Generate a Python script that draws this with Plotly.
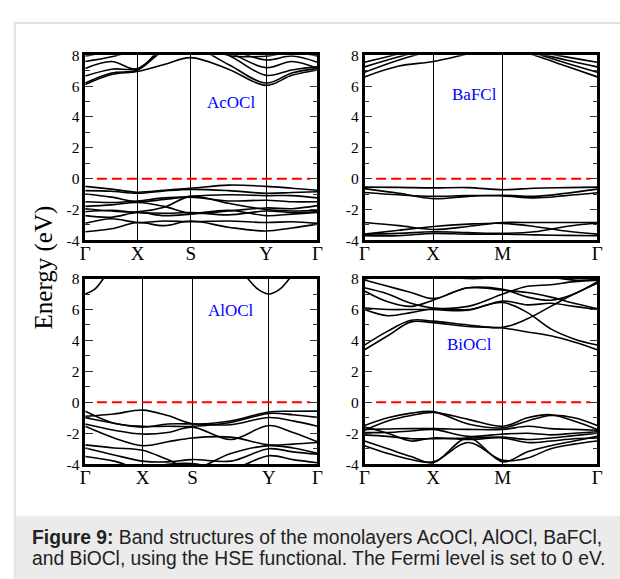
import plotly.graph_objects as go

# ------------------------------------------------------------------ data
y_ticks = [-4, -2, 0, 2, 4, 6, 8]
y_ticktext = ["-4", "-2", "0", "2", "4", "6", "8"]
y_minor = [-3, -1, 1, 3, 5, 7]
fermi_level = 0.0
fermi_span = [0.05, 0.97]

# AcOCl  (path Γ-X-S-Y-Γ)
acocl_nodes = [0.0, 0.226, 0.455, 0.779, 1.0]
acocl_labels = ["Γ", "X", "S", "Y", "Γ"]
acocl_k = [0.0, 0.113, 0.226, 0.340, 0.455, 0.617, 0.779, 0.890, 1.0]
acocl_valence = [
    [-0.50, -0.68, -0.88, -0.75, -0.63, -0.42, -0.50, -0.62, -0.75],
    [-0.78, -0.82, -0.95, -0.80, -0.70, -0.78, -0.95, -0.90, -0.85],
    [-1.00, -1.20, -1.50, -1.35, -1.15, -1.05, -1.10, -1.10, -1.25],
    [-1.50, -1.55, -1.45, -1.25, -1.20, -1.45, -1.40, -1.50, -1.50],
    [-1.80, -1.70, -1.55, -1.80, -2.25, -2.10, -1.90, -1.95, -1.75],
    [-1.95, -2.10, -2.15, -1.85, -1.15, -1.60, -2.00, -2.10, -2.05],
    [-2.15, -2.05, -2.20, -2.25, -2.20, -2.35, -2.10, -2.20, -2.15],
    [-2.40, -2.50, -2.20, -2.40, -2.30, -2.05, -2.40, -2.30, -2.20],
    [-2.90, -2.60, -2.85, -2.75, -2.80, -2.75, -2.85, -2.80, -2.90],
    [-3.45, -3.25, -2.85, -3.05, -2.75, -3.15, -3.40, -3.20, -2.95],
]
acocl_conduction = [
    [6.10, 6.75, 6.95, 7.40, 7.85, 7.10, 6.05, 6.70, 7.05],
    [6.20, 6.85, 7.05, 8.30, 8.60, 7.40, 6.20, 6.85, 7.15],
    [6.65, 7.10, 7.15, 8.40, 8.80, 8.00, 6.70, 7.05, 7.25],
    [7.15, 7.60, 7.10, 8.60, 9.00, 8.20, 7.20, 7.60, 7.15],
    [7.60, 7.90, 8.40, 9.00, 9.00, 8.40, 7.70, 7.95, 7.55],
    [7.95, 8.30, 8.80, 9.00, 9.00, 8.00, 7.95, 8.20, 7.95],
]

# BaFCl  (path Γ-X-M-Γ)
bafcl_nodes = [0.0, 0.295, 0.594, 1.0]
bafcl_labels = ["Γ", "X", "M", "Γ"]
bafcl_k = [0.0, 0.148, 0.295, 0.445, 0.594, 0.730, 0.865, 1.0]
bafcl_valence = [
    [-0.55, -0.57, -0.60, -0.58, -0.72, -0.62, -0.58, -0.55],
    [-0.65, -0.95, -1.30, -1.15, -1.08, -1.15, -0.95, -0.68],
    [-0.90, -1.05, -1.15, -1.10, -1.12, -1.25, -1.10, -0.92],
    [-2.85, -3.05, -3.30, -3.10, -2.85, -2.85, -2.85, -2.85],
    [-3.60, -3.35, -3.10, -2.95, -2.90, -3.10, -3.40, -3.60],
    [-3.60, -3.55, -3.45, -3.50, -3.55, -3.45, -3.10, -2.88],
    [-3.70, -3.70, -3.55, -3.60, -3.60, -3.65, -3.68, -3.70],
]
bafcl_conduction = [
    [6.60, 7.30, 7.60, 8.10, 8.60, 8.00, 7.30, 6.60],
    [6.90, 7.70, 8.30, 8.60, 8.80, 8.15, 7.50, 6.90],
    [7.25, 7.90, 8.50, 8.80, 9.00, 8.20, 7.70, 7.25],
    [7.55, 8.10, 8.70, 9.00, 9.00, 8.30, 7.90, 7.55],
]

# AlOCl  (path Γ-X-S-Y-Γ)
alocl_nodes = [0.0, 0.247, 0.462, 0.791, 1.0]
alocl_labels = ["Γ", "X", "S", "Y", "Γ"]
alocl_k = [0.0, 0.124, 0.247, 0.355, 0.462, 0.627, 0.791, 0.895, 1.0]
alocl_valence = [
    [-0.90, -0.75, -0.50, -0.85, -1.38, -1.20, -0.62, -0.58, -0.57],
    [-0.58, -1.35, -1.55, -1.55, -1.55, -1.30, -0.72, -0.80, -0.97],
    [-1.00, -1.35, -1.60, -1.40, -1.40, -1.45, -0.98, -1.20, -1.55],
    [-1.40, -1.80, -2.05, -1.95, -1.60, -2.40, -1.50, -1.95, -2.55],
    [-1.55, -2.30, -2.80, -2.55, -2.30, -2.25, -2.75, -2.70, -2.60],
    [-2.75, -2.95, -3.10, -3.70, -4.30, -3.30, -2.80, -2.95, -3.30],
    [-2.95, -3.40, -3.80, -3.85, -3.70, -3.80, -3.00, -3.20, -3.35],
    [-3.50, -3.80, -4.30, -4.00, -3.95, -4.30, -3.45, -3.70, -3.90],
]
alocl_cb_gamma_k = [0.0, 0.04, 0.078, 0.11]
alocl_cb_gamma = [7.00, 7.30, 8.00, 8.80]
alocl_cb_y_k = [0.66, 0.70, 0.745, 0.791, 0.837, 0.88, 0.92]
alocl_cb_y = [8.80, 8.00, 7.30, 7.00, 7.30, 8.00, 8.80]

# BiOCl  (path Γ-X-M-Γ)
biocl_nodes = [0.0, 0.295, 0.594, 1.0]
biocl_labels = ["Γ", "X", "M", "Γ"]
biocl_k = [0.0, 0.10, 0.20, 0.295, 0.445, 0.594, 0.70, 0.80, 0.90, 1.0]
biocl_valence = [
    [-1.50, -1.00, -0.70, -0.60, -1.40, -1.65, -1.20, -0.85, -1.00, -1.50],
    [-1.80, -1.20, -0.85, -0.65, -1.10, -1.55, -1.00, -0.80, -1.20, -1.75],
    [-1.75, -1.72, -1.70, -1.70, -1.75, -1.75, -1.55, -1.70, -1.75, -1.80],
    [-1.95, -1.95, -1.85, -1.75, -2.20, -2.05, -2.00, -2.10, -2.00, -1.90],
    [-2.10, -2.20, -2.35, -2.35, -2.30, -2.25, -2.40, -2.30, -2.15, -2.00],
    [-2.50, -3.00, -3.50, -3.90, -2.30, -3.85, -3.20, -2.80, -2.50, -2.20],
    [-2.80, -3.30, -3.70, -3.85, -2.60, -3.75, -3.60, -3.00, -2.70, -2.50],
    [-1.60, -2.00, -2.50, -2.30, -2.40, -2.30, -2.60, -2.50, -2.35, -2.30],
]
biocl_conduction = [
    [3.40, 4.30, 5.20, 5.15, 4.90, 4.80, 4.55, 4.30, 3.90, 3.40],
    [3.70, 4.60, 5.30, 5.25, 5.00, 4.85, 5.40, 6.20, 7.00, 7.70],
    [6.00, 5.60, 5.80, 6.05, 6.00, 6.45, 5.80, 4.75, 4.10, 3.70],
    [7.20, 6.50, 6.20, 6.60, 7.40, 7.25, 7.10, 6.80, 6.40, 6.05],
    [6.10, 6.00, 6.00, 6.00, 5.95, 6.55, 6.30, 6.40, 6.20, 6.00],
    [7.40, 7.00, 6.40, 6.10, 6.20, 7.00, 7.50, 7.60, 7.80, 7.90],
    [7.90, 7.50, 7.10, 6.70, 7.40, 7.30, 6.80, 6.60, 7.00, 7.80],
    [7.95, 8.30, 8.50, 8.30, 8.00, 8.10, 8.30, 8.10, 7.90, 7.95],
]

panel_names = ["AcOCl", "BaFCl", "AlOCl", "BiOCl"]
caption_bold = "Figure 9:"
caption_line1 = " Band structures of the monolayers AcOCl, AlOCl, BaFCl,"
caption_line2 = "and BiOCl, using the HSE functional. The Fermi level is set to 0 eV."

# ------------------------------------------------------------------ layout helpers
W, H = 620, 579


def px_x(p):
    return p / W


def px_y(p):
    return 1 - p / H


panels = [
    dict(x=(81.7, 318.0), y=(47.7, 238.3), nodes=acocl_nodes, labels=acocl_labels,
         tag=(230, 96)),
    dict(x=(366.0, 603.0), y=(47.7, 238.3), nodes=bafcl_nodes, labels=bafcl_labels,
         tag=(478, 88)),
    dict(x=(81.7, 318.0), y=(277.7, 469.0), nodes=alocl_nodes, labels=alocl_labels,
         tag=(230, 311)),
    dict(x=(366.0, 603.0), y=(277.7, 469.0), nodes=biocl_nodes, labels=biocl_labels,
         tag=(473, 346)),
]

band_sets = [
    [(acocl_k, b) for b in acocl_valence + acocl_conduction],
    [(bafcl_k, b) for b in bafcl_valence + bafcl_conduction],
    [(alocl_k, b) for b in alocl_valence]
    + [(alocl_cb_gamma_k, alocl_cb_gamma), (alocl_cb_y_k, alocl_cb_y)],
    [(biocl_k, b) for b in biocl_valence + biocl_conduction],
]

fig = go.Figure()
SERIF = "Liberation Serif"
layout = {}
annotations = []

for i, (p, bands) in enumerate(zip(panels, band_sets)):
    n = i + 1
    xa = "x" if n == 1 else f"x{n}"
    ya = "y" if n == 1 else f"y{n}"
    xkey = "xaxis" if n == 1 else f"xaxis{n}"
    ykey = "yaxis" if n == 1 else f"yaxis{n}"

    for kx, e in bands:
        fig.add_trace(go.Scatter(
            x=kx, y=e, mode="lines", xaxis=xa, yaxis=ya, hoverinfo="skip",
            line=dict(color="black", width=1.6, shape="spline", smoothing=1.0)))
    fig.add_trace(go.Scatter(
        x=fermi_span, y=[fermi_level, fermi_level], mode="lines", xaxis=xa,
        yaxis=ya, hoverinfo="skip",
        line=dict(color="#ff0000", width=2, dash="10px,5px")))

    layout[xkey] = dict(
        domain=[px_x(p["x"][0]), px_x(p["x"][1])], anchor=ya, range=[0, 1],
        tickmode="array", tickvals=p["nodes"], ticktext=p["labels"],
        ticks="", showgrid=True, gridcolor="black", gridwidth=1.3,
        showline=True, linecolor="black", linewidth=2.5, mirror=True,
        zeroline=False, fixedrange=True, ticklabelstandoff=-6,
        tickfont=dict(family=SERIF, size=19, color="black"))
    layout[ykey] = dict(
        domain=[px_y(p["y"][1]), px_y(p["y"][0])], anchor=xa, range=[-4, 8],
        tickmode="array", tickvals=y_ticks, ticktext=y_ticktext,
        ticks="inside", ticklen=8, tickwidth=1.2, tickcolor="#333",
        minor=dict(tickvals=y_minor, ticks="inside", ticklen=5, tickwidth=1.2,
                   tickcolor="#333", showgrid=False),
        showgrid=False, zeroline=False,
        showline=True, linecolor="black", linewidth=2.5, mirror="allticks",
        fixedrange=True,
        tickfont=dict(family=SERIF, size=15.5, color="black"))

    annotations.append(dict(
        text=panel_names[i], x=px_x(p["tag"][0]), y=px_y(p["tag"][1]),
        xref="paper", yref="paper", showarrow=False, xanchor="center",
        yanchor="middle", font=dict(family=SERIF, size=17, color="#0000ff")))

annotations.append(dict(
    text="Energy (eV)", x=px_x(40), y=px_y(266), xref="paper", yref="paper",
    showarrow=False, textangle=-90, xanchor="center", yanchor="middle",
    font=dict(family=SERIF, size=25, color="black")))

cap_font = dict(family="Liberation Sans", size=19.3, color="#222")
annotations.append(dict(
    text=f"<b>{caption_bold}</b>{caption_line1}", x=px_x(25), y=px_y(544),
    xref="paper", yref="paper", showarrow=False, xanchor="left",
    yanchor="middle", align="left", font=cap_font))
annotations.append(dict(
    text=caption_line2, x=px_x(25), y=px_y(566),
    xref="paper", yref="paper", showarrow=False, xanchor="left",
    yanchor="middle", align="left", font=cap_font))

shapes = [
    dict(type="rect", xref="paper", yref="paper", x0=px_x(10), x1=1.05,
         y0=-0.05, y1=px_y(14.5), line=dict(color="#e3e3e3", width=2),
         fillcolor="rgba(0,0,0,0)", layer="below"),
    dict(type="rect", xref="paper", yref="paper", x0=px_x(11), x1=1.05,
         y0=-0.05, y1=px_y(522), line=dict(width=0),
         fillcolor="#ebebeb", layer="below"),
]

fig.update_layout(
    width=W, height=H, margin=dict(l=0, r=0, t=0, b=0),
    paper_bgcolor="white", plot_bgcolor="white", showlegend=False,
    annotations=annotations, shapes=shapes, **layout)

fig.write_html("out.html")
